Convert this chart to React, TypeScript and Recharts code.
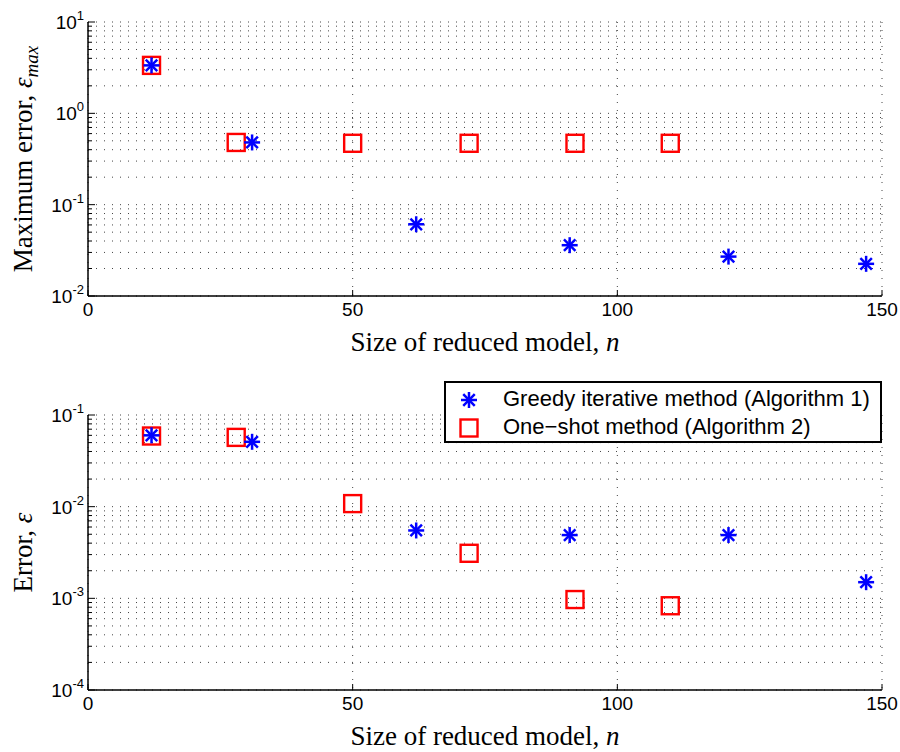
import React from 'react';
import { ScatterChart, Scatter, XAxis, YAxis, CartesianGrid, Legend } from 'recharts';

// reduced model sizes
const greedyN = [12, 31, 62, 91, 121, 147];
const oneShotN = [12, 28, 50, 72, 92, 110];

// top panel: maximum error
const greedyMax = [3.35, 0.48, 0.061, 0.036, 0.027, 0.0225];
const oneShotMax = [3.35, 0.48, 0.47, 0.47, 0.47, 0.47];

// bottom panel: error
const greedyErr = [0.06, 0.051, 0.0055, 0.0049, 0.0049, 0.0015];
const oneShotErr = [0.059, 0.057, 0.0108, 0.0031, 0.00097, 0.00083];

const xTicks = [0, 50, 100, 150];
const topDecades = [-2, -1, 0, 1];
const bottomDecades = [-4, -3, -2, -1];

const GREEDY_NAME = 'Greedy iterative method (Algorithm 1)';
const ONESHOT_NAME = 'One\u2212shot method (Algorithm 2)';

const toPoints = (xs: number[], ys: number[]) => xs.map((x, i) => ({ x, y: ys[i] }));

// decades plus 2..9 minor values in between
const logTicks = (decades: number[]) => {
  const out: number[] = [];
  decades.forEach((d, i) => {
    const base = Math.pow(10, d);
    out.push(base);
    if (i < decades.length - 1) for (let k = 2; k <= 9; k++) out.push(k * base);
  });
  return out;
};

const PLOT_LEFT = 88;
const SANS = '"Liberation Sans", Arial, sans-serif';
const SERIF = '"Liberation Serif", "Times New Roman", serif';

const Star = (props: any) => {
  const { cx, cy } = props;
  if (cx == null || cy == null) return null;
  const r = 8;
  const d = r * 0.72;
  return (
    <g stroke="#0000ff" strokeWidth={2.5} strokeLinecap="butt">
      <line x1={cx} y1={cy - r} x2={cx} y2={cy + r} />
      <line x1={cx - r} y1={cy} x2={cx + r} y2={cy} />
      <line x1={cx - d} y1={cy - d} x2={cx + d} y2={cy + d} />
      <line x1={cx - d} y1={cy + d} x2={cx + d} y2={cy - d} />
    </g>
  );
};

const Square = (props: any) => {
  const { cx, cy } = props;
  if (cx == null || cy == null) return null;
  const h = 8.5;
  return <rect x={cx - h} y={cy - h} width={2 * h} height={2 * h} fill="none" stroke="#ff0000" strokeWidth={2.4} />;
};

const YTick = (props: any) => {
  const { y, payload } = props;
  const v = payload.value as number;
  const lg = Math.log10(v);
  const isDecade = Math.abs(lg - Math.round(lg)) < 1e-6;
  return (
    <g>
      <line x1={PLOT_LEFT} x2={PLOT_LEFT + (isDecade ? 7 : 4)} y1={y} y2={y} stroke="#000" strokeWidth={1} />
      {isDecade && (
        <text x={PLOT_LEFT - 4} y={y + 7} textAnchor="end" fontFamily={SANS} fontSize={19} fill="#000">
          <tspan>10</tspan>
          <tspan dy={-9} fontSize={13}>{String(Math.round(lg))}</tspan>
        </text>
      )}
    </g>
  );
};

const XTick = (props: any) => {
  const { x, y, payload } = props;
  return (
    <g>
      <line x1={x} x2={x} y1={y - 8} y2={y - 14} stroke="#000" strokeWidth={1} />
      <text x={x} y={y + 12} textAnchor="middle" fontFamily={SANS} fontSize={19} fill="#000">
        {payload.value}
      </text>
    </g>
  );
};

function Panel({
  height, top, greedy, oneShot, decades, title, legend, plotBottom,
}: {
  height: number; top: number; greedy: { x: number; y: number }[]; oneShot: { x: number; y: number }[];
  decades: number[]; title: React.ReactNode; legend?: boolean; plotBottom: number;
}) {
  const ticks = logTicks(decades);
  const xAxisHeight = height - plotBottom;
  const midY = (top + plotBottom) / 2;
  return (
    <ScatterChart width={900} height={height} margin={{ top, right: 18, bottom: 0, left: 28 }}>
      <CartesianGrid stroke="#444" strokeDasharray="1 7" strokeWidth={1} />
      <XAxis
        type="number"
        dataKey="x"
        domain={[0, 150]}
        ticks={xTicks}
        tick={<XTick />}
        tickLine={false}
        axisLine={{ stroke: '#000', strokeWidth: 1.5 }}
        height={xAxisHeight}
      />
      <YAxis
        type="number"
        dataKey="y"
        scale="log"
        domain={[Math.pow(10, decades[0]), Math.pow(10, decades[decades.length - 1])]}
        allowDataOverflow
        ticks={ticks}
        interval={0}
        tick={<YTick />}
        tickLine={false}
        axisLine={{ stroke: '#000', strokeWidth: 1.5 }}
        width={60}
      />
      {legend && (
        <Legend
          layout="horizontal"
          verticalAlign="middle"
          align="center"
          wrapperStyle={{ position: 'absolute', left: 444, top: 1, width: 438, height: 62 }}
          content={() => (
            <div style={{ boxSizing: 'border-box', width: 438, height: 62, border: '2px solid #000', background: '#fff', fontFamily: SANS, fontSize: 22, position: 'relative', lineHeight: '24px' }}>
              <svg width={30} height={58} style={{ position: 'absolute', left: 8, top: 0 }}>
                <Star cx={15} cy={17} />
                <Square cx={15} cy={45} />
              </svg>
              <div style={{ position: 'absolute', left: 57, top: 4, whiteSpace: 'nowrap' }}>{GREEDY_NAME}</div>
              <div style={{ position: 'absolute', left: 57, top: 32, whiteSpace: 'nowrap' }}>{ONESHOT_NAME}</div>
            </div>
          )}
        />
      )}
      <Scatter name={ONESHOT_NAME} data={oneShot} shape={<Square />} isAnimationActive={false} />
      <Scatter name={GREEDY_NAME} data={greedy} shape={<Star />} isAnimationActive={false} />
      <text x={485} y={plotBottom + 55} textAnchor="middle" fontFamily={SERIF} fontSize={27} fill="#000">
        Size of reduced model, <tspan fontStyle="italic">n</tspan>
      </text>
      <text
        x={32}
        y={midY}
        textAnchor="middle"
        fontFamily={SERIF}
        fontSize={27}
        fill="#000"
        transform={`rotate(-90 32 ${midY})`}
      >
        {title}
      </text>
    </ScatterChart>
  );
}

export default function App() {
  return (
    <div style={{ position: 'absolute', left: 0, top: 0, width: 900, height: 752, background: '#fff' }}>
      <div style={{ position: 'absolute', left: 0, top: 0 }}>
        <Panel
          height={360}
          top={22}
          plotBottom={296}
          greedy={toPoints(greedyN, greedyMax)}
          oneShot={toPoints(oneShotN, oneShotMax)}
          decades={topDecades}
          title={
            <>
              Maximum error, <tspan fontStyle="italic">ε</tspan>
              <tspan fontStyle="italic" fontSize={19} dy={6}>max</tspan>
            </>
          }
        />
      </div>
      <div style={{ position: 'absolute', left: 0, top: 380 }}>
        <Panel
          height={372}
          top={35}
          plotBottom={310}
          greedy={toPoints(greedyN, greedyErr)}
          oneShot={toPoints(oneShotN, oneShotErr)}
          decades={bottomDecades}
          legend
          title={
            <>
              Error, <tspan fontStyle="italic">ε</tspan>
            </>
          }
        />
      </div>
    </div>
  );
}
